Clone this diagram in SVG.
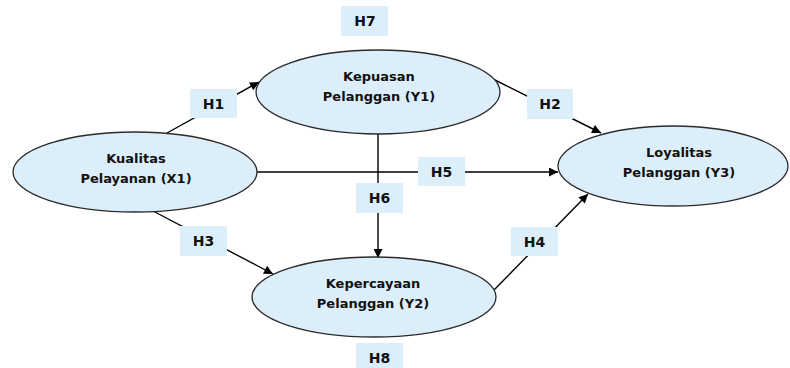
<svg xmlns="http://www.w3.org/2000/svg" width="790" height="368" viewBox="0 0 790 368">
  <defs>
    <marker id="arr" viewBox="0 0 10 10" refX="10" refY="5" markerWidth="10" markerHeight="9" markerUnits="userSpaceOnUse" orient="auto">
      <path d="M0,0 L10,5 L0,10 z" fill="#000"/>
    </marker>
    <style>
      .node ellipse { fill: #DDEEFB; stroke: #2b2b2b; stroke-width: 1.3; }
      .node text { font-family: "DejaVu Sans", Verdana, sans-serif; font-weight: bold; font-size: 13px; fill: #111; text-anchor: middle; }
      .conn line { stroke: #000; stroke-width: 1.4; marker-end: url(#arr); }
      .lbl rect { fill: #DDEEFB; }
      .lbl text { font-family: "DejaVu Sans", Verdana, sans-serif; font-weight: bold; font-size: 14px; fill: #111; text-anchor: middle; }
    </style>
  </defs>
  <rect width="790" height="368" fill="#fff"/>

  <g id="connectors" class="conn">
    <line x1="167" y1="133" x2="259" y2="82"/>
    <line x1="495" y1="80" x2="601" y2="133"/>
    <line x1="257" y1="172" x2="558" y2="172"/>
    <line x1="378" y1="134" x2="378" y2="258"/>
    <line x1="153" y1="211" x2="273" y2="274"/>
    <line x1="494" y1="290" x2="588" y2="194"/>
  </g>

  <g id="labels" class="lbl">
    <g id="H7"><rect x="341" y="6" width="47" height="30"/><text x="365" y="26">H7</text></g>
    <g id="H1"><rect x="190" y="89" width="47" height="29"/><text x="213.5" y="108.5">H1</text></g>
    <g id="H2"><rect x="527" y="89" width="46" height="30"/><text x="550" y="109">H2</text></g>
    <g id="H5"><rect x="418" y="157" width="47" height="29"/><text x="441.5" y="176.5">H5</text></g>
    <g id="H6"><rect x="356" y="183" width="47" height="30"/><text x="379.5" y="203">H6</text></g>
    <g id="H3"><rect x="180" y="226" width="47" height="30"/><text x="203.5" y="246">H3</text></g>
    <g id="H4"><rect x="511" y="227" width="47" height="29"/><text x="534.5" y="246.5">H4</text></g>
    <g id="H8"><rect x="356" y="343" width="47" height="30"/><text x="379.5" y="363">H8</text></g>
  </g>

  <g id="Y1" class="node">
    <ellipse cx="378" cy="92" rx="122" ry="42"/>
    <text x="379" y="81">Kepuasan</text>
    <text x="379" y="101">Pelanggan (Y1)</text>
  </g>
  <g id="X1" class="node">
    <ellipse cx="135" cy="172" rx="122" ry="40"/>
    <text x="136" y="163">Kualitas</text>
    <text x="136" y="183">Pelayanan (X1)</text>
  </g>
  <g id="Y3" class="node">
    <ellipse cx="673" cy="166" rx="115" ry="40"/>
    <text x="679" y="157">Loyalitas</text>
    <text x="679" y="177">Pelanggan (Y3)</text>
  </g>
  <g id="Y2" class="node">
    <ellipse cx="374" cy="297" rx="122" ry="40"/>
    <text x="373" y="288">Kepercayaan</text>
    <text x="373" y="308">Pelanggan (Y2)</text>
  </g>
</svg>
